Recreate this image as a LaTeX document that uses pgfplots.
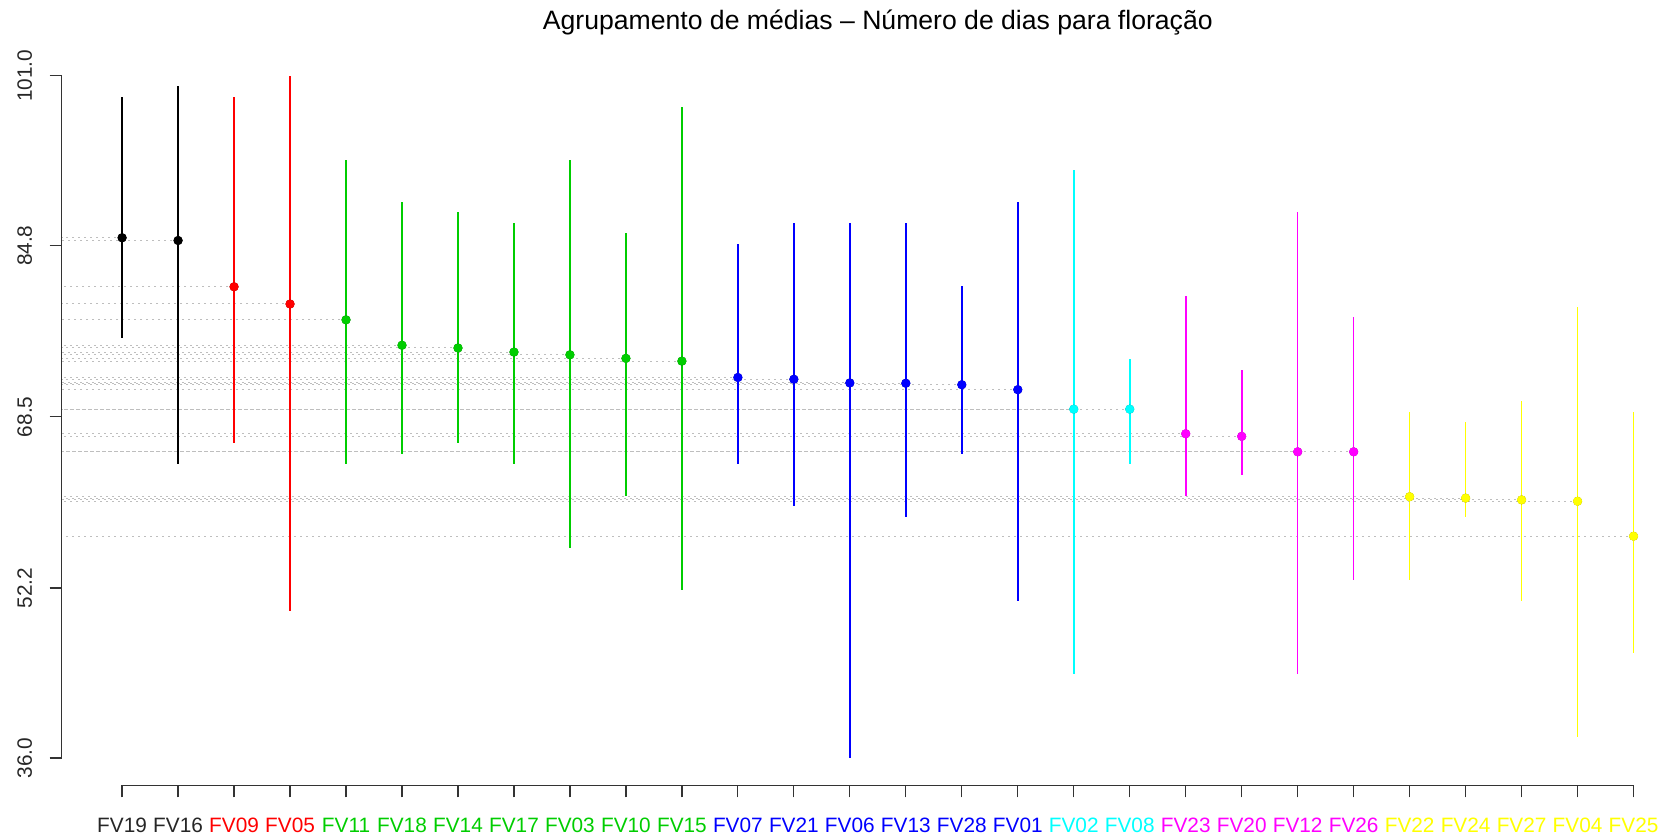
\documentclass[border=0pt]{standalone}
\usepackage{pgfplots}
\usepackage{pgfplotstable}
\pgfplotsset{compat=1.18}
\usepackage{fontspec}
\setmainfont{Liberation Sans}

\definecolor{rblack}{RGB}{0,0,0}
\definecolor{rred}{RGB}{255,0,0}
\definecolor{rgreen}{RGB}{0,205,0}
\definecolor{rblue}{RGB}{0,0,255}
\definecolor{rcyan}{RGB}{0,255,255}
\definecolor{rmagenta}{RGB}{255,0,255}
\definecolor{ryellow}{RGB}{255,255,0}
\definecolor{rgray}{RGB}{190,190,190}

% one table per group: position, mean, lowest and highest value
\pgfplotstableread{
x name mean lo hi
1 FV19 85.56 76 99
2 FV16 85.30 64 100
}\gA
\pgfplotstableread{
x name mean lo hi
3 FV09 80.89 66 99
4 FV05 79.25 50 101
}\gB
\pgfplotstableread{
x name mean lo hi
5  FV11 77.74 64 93
6  FV18 75.32 65 89
7  FV14 75.06 66 88
8  FV17 74.67 64 87
9  FV03 74.41 56 93
10 FV10 74.07 61 86
11 FV15 73.81 52 98
}\gC
\pgfplotstableread{
x name mean lo hi
12 FV07 72.25 64 85
13 FV21 72.08 60 87
14 FV06 71.73 36 87
15 FV13 71.70 59 87
16 FV28 71.56 65 81
17 FV01 71.09 51 89
}\gD
\pgfplotstableread{
x name mean lo hi
18 FV02 69.23 44 92
19 FV08 69.23 64 74
}\gE
\pgfplotstableread{
x name mean lo hi
20 FV23 66.89 61 80
21 FV20 66.64 63 73
22 FV12 65.17 44 88
23 FV26 65.17 53 78
}\gF
\pgfplotstableread{
x name mean lo hi
24 FV22 60.89 53 69
25 FV24 60.76 59 68
26 FV27 60.59 51 70
27 FV04 60.46 38 79
28 FV25 57.13 46 69
}\gG

% dotted guide from the y axis to each mean
\newcommand\guide[1]{%
  \addplot[only marks, mark=none,
    error bars/.cd, x dir=minus, x explicit, error mark=none,
    error bar style={rgray, line width=0.5pt, dash pattern=on 1pt off 2pt}]
    table[x=x, y=mean, x error minus expr=\thisrow{x}+0.08] {#1};}
% range bar and mean point of one group
\newcommand\grp[2]{%
  \addplot[only marks, mark=*, mark size=2.1pt,
    mark options={draw=#2, fill=#2},
    error bars/.cd, y dir=both, y explicit, error mark=none,
    error bar style={#2, line width=0.8pt}]
    table[x=x, y=mean,
      y error plus expr=\thisrow{hi}-\thisrow{mean},
      y error minus expr=\thisrow{mean}-\thisrow{lo}] {#1};}

\begin{document}
\begin{tikzpicture}
\useasboundingbox (0,0) rectangle (832pt,417pt);
\begin{axis}[
  at={(30.82pt,24.35pt)}, anchor=south west,
  x=27.99pt, y=5.2485pt,
  xmin=-0.08, xmax=29.08, ymin=33.4, ymax=103.6,
  axis lines*=left, axis line style={draw=none},
  clip=false,
  tick align=outside, major tick length=6pt,
  tick style={black!80, line width=0.6pt},
  xtick={1,...,28},
  xticklabels={FV19,FV16,
    \textcolor{rred}{FV09},\textcolor{rred}{FV05},
    \textcolor{rgreen}{FV11},\textcolor{rgreen}{FV18},\textcolor{rgreen}{FV14},\textcolor{rgreen}{FV17},\textcolor{rgreen}{FV03},\textcolor{rgreen}{FV10},\textcolor{rgreen}{FV15},
    \textcolor{rblue}{FV07},\textcolor{rblue}{FV21},\textcolor{rblue}{FV06},\textcolor{rblue}{FV13},\textcolor{rblue}{FV28},\textcolor{rblue}{FV01},
    \textcolor{rcyan}{FV02},\textcolor{rcyan}{FV08},
    \textcolor{rmagenta}{FV23},\textcolor{rmagenta}{FV20},\textcolor{rmagenta}{FV12},\textcolor{rmagenta}{FV26},
    \textcolor{ryellow}{FV22},\textcolor{ryellow}{FV24},\textcolor{ryellow}{FV27},\textcolor{ryellow}{FV04},\textcolor{ryellow}{FV25}},
  ytick={36,52.2,68.5,84.8,101},
  yticklabels={36.0,52.2,68.5,84.8,101.0},
  ticklabel style={font=\fontsize{10.4}{12}\selectfont, text=black!85},
  xticklabel style={anchor=base, yshift=-17.6pt},
  yticklabel style={xshift=-8.9pt, rotate=90, anchor=base},
  title={Agrupamento de médias – Número de dias para floração},
  title style={at={(0.5,1)}, anchor=base, yshift=3.6pt,
    font=\fontsize{13.3}{16}\selectfont},
]
\guide{\gA}\guide{\gB}\guide{\gC}\guide{\gD}\guide{\gE}\guide{\gF}\guide{\gG}
\grp{\gA}{rblack}
\grp{\gB}{rred}
\grp{\gC}{rgreen}
\grp{\gD}{rblue}
\grp{\gE}{rcyan}
\grp{\gF}{rmagenta}
\grp{\gG}{ryellow}
% axis lines spanning the tick range only
\draw[black!80, line width=0.6pt] (axis cs:-0.08,36) -- (axis cs:-0.08,101);
\draw[black!80, line width=0.6pt] (axis cs:1,33.4) -- (axis cs:28,33.4);
\end{axis}
\end{tikzpicture}
\end{document}
